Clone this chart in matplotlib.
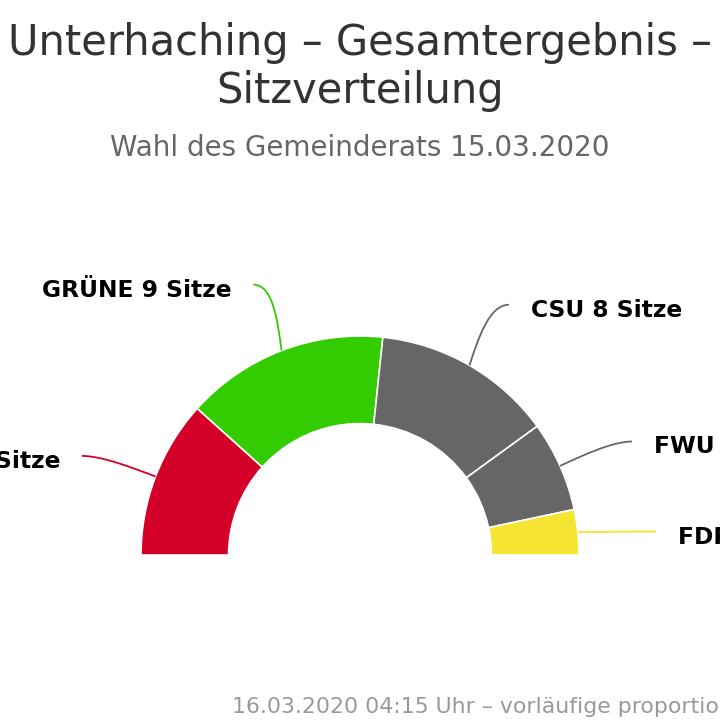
import numpy as np
import matplotlib.pyplot as plt
from matplotlib.path import Path
from matplotlib.patches import PathPatch

parties = ["SPD", "GRÜNE", "CSU", "FWU", "FDP"]
seats = [7, 9, 8, 4, 2]
colors = ["#d5002a", "#33cc00", "#666666", "#666666", "#f5e532"]

title = "Unterhaching – Gesamtergebnis –\nSitzverteilung"
subtitle = "Wahl des Gemeinderats 15.03.2020"
footer = "16.03.2020 04:15 Uhr – vorläufige proportionale Sitzverteilung"

# pixel layout of the reference (720x720)
W = 720
cx, cy = 360, 555
scale = 219.0

fig = plt.figure(figsize=(7.2, 7.2), dpi=100)
ax = fig.add_axes([0, 0, 1, 1])

total = sum(seats)
wedges, _ = ax.pie(seats + [total], colors=colors + ["white"], startangle=180,
                   counterclock=False, radius=1.0,
                   wedgeprops=dict(width=0.4, edgecolor="white", linewidth=1.2))
wedges[-1].set_visible(False)

ax.set_xlim(-cx / scale, (W - cx) / scale)
ax.set_ylim(-(W - cy) / scale, cy / scale)
ax.set_aspect("equal")
ax.axis("off")

# labels with curved connectors
for w, name, n, c in zip(wedges[:-1], parties, seats, colors):
    mid = np.deg2rad((w.theta1 + w.theta2) / 2)
    sx, sy = np.cos(mid), np.sin(mid)
    ex, ey = 1.36 * np.cos(mid), 1.36 * np.sin(mid) - 0.035
    side = 1 if sx > 0 else -1
    p1 = (ex - side * 0.09, ey)
    p2 = (sx + 0.45 * (p1[0] - sx), sy + 0.45 * (p1[1] - sy))
    path = Path([(ex, ey), p1, p2, (sx, sy)],
                [Path.MOVETO, Path.CURVE4, Path.CURVE4, Path.CURVE4])
    ax.add_patch(PathPatch(path, fc="none", ec=c, lw=1.3, clip_on=False))
    ax.text(ex + side * 0.1, ey - 0.025, f"{name} {n} Sitze",
            ha="left" if side > 0 else "right", va="center",
            fontsize=16.8, fontweight="bold", color="black", clip_on=False)

fig.text(0.5, 1 - 67 / W, title, ha="center", va="center", fontsize=30,
         color="#333333", linespacing=1.2)
fig.text(0.5, 1 - 148 / W, subtitle, ha="center", va="center", fontsize=20,
         color="#666666")
fig.text(232 / W, 1 - 707 / W, footer, ha="left", va="center", fontsize=15.8,
         color="#999999")

fig.savefig("out.png", dpi=100)
